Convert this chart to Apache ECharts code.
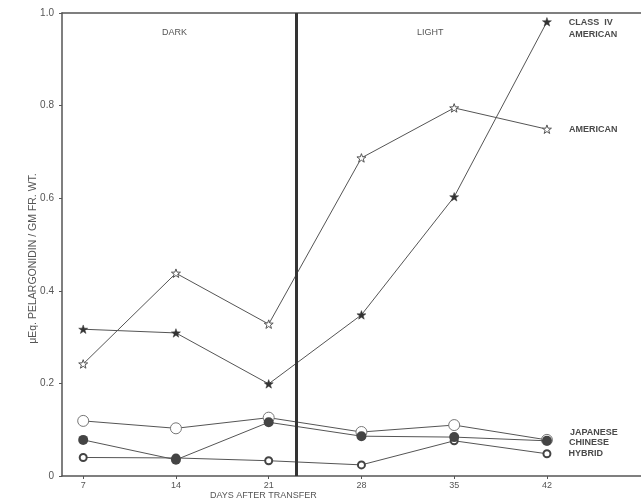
<!DOCTYPE html>
<html>
<head>
<meta charset="utf-8">
<script src="https://cdn.jsdelivr.net/npm/echarts@6/dist/echarts.min.js"></script>
<style>html,body{margin:0;padding:0;background:#fff;}#c{width:641px;height:504px;}</style>
</head>
<body>
<div id="c"></div>
<script>
const days = [7, 14, 21, 28, 35, 42];
const classIV = [0.317, 0.309, 0.199, 0.348, 0.603, 0.981];
const american = [0.242, 0.438, 0.328, 0.687, 0.795, 0.749];
const japanese = [0.119, 0.103, 0.126, 0.095, 0.110, 0.078];
const chinese = [0.078, 0.035, 0.116, 0.086, 0.084, 0.076];
const hybrid = [0.040, 0.039, 0.033, 0.024, 0.076, 0.048];
const xTickLabels = ['7', '14', '21', '28', '35', '42'];
const yTickLabels = ['0', '0.2', '0.4', '0.6', '0.8', '1.0'];
const seriesLabels = ['CLASS  IV\nAMERICAN', 'AMERICAN', 'JAPANESE', 'CHINESE', 'HYBRID'];
const transferDay = 23.05;
const periodLabels = ['DARK', 'LIGHT'];
const xName = 'DAYS AFTER TRANSFER';
const yName = 'μEq. PELARGONIDIN / GM FR. WT.';

const FONT = '"Liberation Sans", Arial, sans-serif';
const INK = '#4a4a4a';
const STAR = 'path://M0,-10 L2.35,-3.24 L9.51,-3.09 L3.8,1.24 L5.88,8.09 L0,4 L-5.88,8.09 L-3.8,1.24 L-9.51,-3.09 L-2.35,-3.24 Z';

function build(vals, labelText, offset) {
  return vals.map((v, i) => {
    const item = { value: [days[i], v] };
    if (i === vals.length - 1) {
      item.label = {
        show: true, position: 'right', distance: 17, formatter: labelText,
        offset: offset, color: INK, fontFamily: FONT, fontWeight: 'bold',
        fontSize: 9, lineHeight: 12, align: 'left'
      };
    }
    return item;
  });
}

const lineStyle = { color: '#555', width: 1 };

const chart = echarts.init(document.getElementById('c'), null, { renderer: 'canvas' });
chart.setOption({
  animation: false,
  backgroundColor: '#fff',
  grid: { left: 62, right: 0, top: 13, bottom: 28 },
  xAxis: [{
    type: 'value', min: 5.4, max: 49.1, position: 'bottom',
    axisLine: { show: true, lineStyle: { color: '#555', width: 1.5 } },
    axisTick: { show: true, customValues: days, length: 3, lineStyle: { color: '#555' } },
    axisLabel: {
      customValues: days, margin: 5, color: '#555', fontSize: 9, fontFamily: FONT,
      formatter: (v) => xTickLabels[days.indexOf(v)] || ''
    },
    splitLine: { show: false }
  }, {
    type: 'value', min: 5.4, max: 49.1, position: 'top',
    axisLine: { show: true, lineStyle: { color: '#555', width: 1.5 } },
    axisTick: { show: false }, axisLabel: { show: false }, splitLine: { show: false }
  }],
  yAxis: {
    type: 'value', min: 0, max: 1, interval: 0.2,
    name: yName, nameLocation: 'middle', nameGap: 23.5, nameMoveOverlap: false,
    nameTextStyle: { color: '#555', fontSize: 10.5, fontFamily: FONT, padding: [0, 28, 0, 0] },
    axisLine: { show: true, lineStyle: { color: '#555', width: 1.5 } },
    axisTick: { show: true, length: 3, lineStyle: { color: '#555' } },
    axisLabel: {
      margin: 8, color: '#555', fontSize: 10, fontFamily: FONT,
      formatter: (v) => yTickLabels[Math.round(v / 0.2)]
    },
    splitLine: { show: false }
  },
  graphic: [
    { type: 'text', left: 210, top: 491, style: { text: xName, fill: '#555', font: '9px ' + FONT } },
    { type: 'text', left: 162, top: 28, style: { text: periodLabels[0], fill: '#555', font: '9px ' + FONT } },
    { type: 'text', left: 417, top: 28, style: { text: periodLabels[1], fill: '#555', font: '9px ' + FONT } }
  ],
  series: [
    {
      name: 'Class IV American', type: 'line', data: build(classIV, seriesLabels[0], [0, 7]),
      symbol: STAR, symbolSize: 9, symbolKeepAspect: true,
      itemStyle: { color: '#333', borderColor: '#333', borderWidth: 0.5 },
      lineStyle: lineStyle, z: 3,
      markLine: {
        silent: true, symbol: ['none', 'none'], label: { show: false },
        lineStyle: { color: '#333', width: 3, type: 'solid' },
        data: [{ xAxis: transferDay }]
      }
    },
    {
      name: 'American', type: 'line', data: build(american, seriesLabels[1], [0, 0]),
      symbol: STAR, symbolSize: 9, symbolKeepAspect: true,
      itemStyle: { color: '#fff', borderColor: '#555', borderWidth: 1 },
      lineStyle: lineStyle, z: 3
    },
    {
      name: 'Japanese', type: 'line', data: build(japanese, seriesLabels[2], [0, -7]),
      symbol: 'circle', symbolSize: 11,
      itemStyle: { color: '#fff', borderColor: '#777', borderWidth: 1 },
      lineStyle: lineStyle, z: 2
    },
    {
      name: 'Hybrid', type: 'line', data: build(hybrid, seriesLabels[4], [0, 0]),
      symbol: 'circle', symbolSize: 7,
      itemStyle: { color: '#fff', borderColor: '#444', borderWidth: 2 },
      lineStyle: lineStyle, z: 3
    },
    {
      name: 'Chinese', type: 'line', data: build(chinese, seriesLabels[3], [0, 2]),
      symbol: 'circle', symbolSize: 10,
      itemStyle: { color: '#444', borderColor: '#444', borderWidth: 0 },
      lineStyle: lineStyle, z: 4
    }
  ]
});
</script>
</body>
</html>
